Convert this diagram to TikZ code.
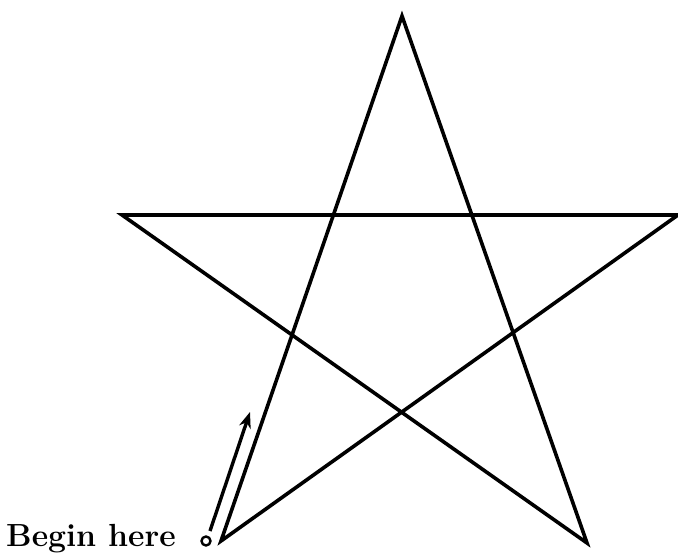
\documentclass[tikz,border=0pt]{standalone}
\usepackage{tikz}
\usetikzlibrary{arrows.meta}
\tikzset{
  starline/.style={black, line width=3.6pt, line join=miter},
  startarrow/.style={black, line width=3.4pt, -{Stealth[length=16pt,width=12pt]}},
  startring/.style={circle, draw=black, line width=2.4pt, inner sep=0pt, minimum size=9pt},
  beginlabel/.style={font=\fontsize{32}{36}\selectfont\bfseries, inner sep=0pt}
}
\begin{document}
\begin{tikzpicture}[x=1pt,y=-1pt]
  \useasboundingbox (0,0) rectangle (678,553);
  % star points
  \coordinate (top) at (402,16);
  \coordinate (left) at (122,215);
  \coordinate (right) at (678,215);
  \coordinate (botleft) at (221,541);
  \coordinate (botright) at (587,543);
  \draw[starline] (botleft) -- (top) -- (botright) -- (left) -- (right) -- cycle;
  % start mark
  \node[startring] (ring) at (206,541) {};
  \coordinate (arrowfoot) at (210,531);
  \coordinate (arrowtip) at (250,412);
  \draw[startarrow] (arrowfoot) -- (arrowtip);
  \node[beginlabel, anchor=base east] (label) at (176,546) {Begin here};
\end{tikzpicture}
\end{document}
